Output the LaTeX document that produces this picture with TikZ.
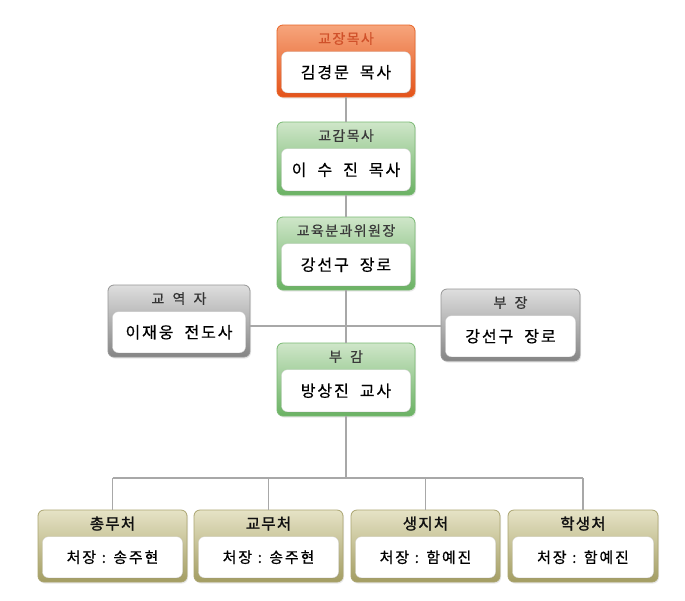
\documentclass[tikz,border=0pt]{standalone}
\usepackage{fontspec}
\setmainfont{Noto Sans CJK KR}
\newfontfamily\namefont[LetterSpace=12, WordSpace=2, FakeBold=0.6]{Noto Sans CJK KR}
\newfontfamily\smallnamefont[LetterSpace=12.1, WordSpace=1.1, FakeBold=0.61]{Noto Sans CJK KR}
\newfontfamily\headfont[LetterSpace=10, WordSpace=1.8, FakeBold=0.7]{Noto Sans CJK KR}
\newfontfamily\bigheadfont[LetterSpace=8, FakeBold=1.6]{Noto Sans CJK KR}
\usetikzlibrary{shadows}
\definecolor{orgtop}{HTML}{F6A57C}
\definecolor{orgbot}{HTML}{E4531A}
\definecolor{orgborder}{HTML}{E86426}
\definecolor{orghead}{HTML}{D0512A}
\definecolor{grntop}{HTML}{CFE6C9}
\definecolor{grnbot}{HTML}{6AB263}
\definecolor{grnborder}{HTML}{79B972}
\definecolor{grnhead}{HTML}{3A3A3A}
\definecolor{grytop}{HTML}{DEDEDE}
\definecolor{grybot}{HTML}{858585}
\definecolor{gryborder}{HTML}{969696}
\definecolor{gryhead}{HTML}{333333}
\definecolor{olvtop}{HTML}{E6E3C6}
\definecolor{olvbot}{HTML}{A39D62}
\definecolor{olvborder}{HTML}{ABA571}
\definecolor{olvhead}{HTML}{111111}
\definecolor{linegray}{HTML}{A8A8A8}
\tikzset{
  outerbox/.style={rounded corners=6pt, draw=#1border, top color=#1top, bottom color=#1bot,
    line width=0.8pt, inner sep=0pt,
    drop shadow={opacity=0.18, shadow xshift=1pt, shadow yshift=-1.5pt}},
  innerbox/.style={rounded corners=6pt, fill=white, draw=white!85!black, line width=0.3pt,
    inner sep=0pt, font=\namefont\fontsize{16}{18}\selectfont},
  smallbody/.style={font=\smallnamefont\fontsize{15}{17}\selectfont},
  headtext/.style={inner sep=0pt, font=\headfont\fontsize{14}{16}\selectfont},
  bighead/.style={inner sep=0pt, font=\bigheadfont\fontsize{15.5}{17}\selectfont},
  conn/.style={draw=linegray, line width=1.4pt},
}
% name, center, width, height, scheme, header style, header, body
\newcommand\orgbox[9][]{%
  \node[outerbox=#6, minimum width=#4pt, minimum height=#5pt] (#2) at (#3) {};
  \node[innerbox, #1, anchor=south, minimum width={#4pt-9pt}, minimum height={#5pt-31pt},
    drop shadow={opacity=0.15, shadow xshift=0.8pt, shadow yshift=-0.8pt}]
    (#2-in) at ([yshift=4.5pt]#2.south) {#9};
  \node[#7, text=#6head] (#2-hd) at ([yshift=-14pt]#2.north) {#8};
}
\begin{document}
\begin{tikzpicture}[x=1pt,y=-1pt]
  \fill[white] (0,0) rectangle (685,600);
  \useasboundingbox (0,0) rectangle (685,600);

  \coordinate (hy) at (346,326);
  \coordinate (bus) at (346,478);

  \orgbox{b1}{346,61}{138}{72}{org}{headtext}{교장목사}{김경문 목사}
  \orgbox{b2}{346,158.5}{138}{73}{grn}{headtext}{교감목사}{이 수 진 목사}
  \orgbox{b3}{346,253.5}{138}{73}{grn}{headtext}{교육분과위원장}{강선구 장로}
  \orgbox{lt}{179,321}{142}{72}{gry}{headtext}{교 역 자}{이재웅 전도사}
  \orgbox{rt}{510.5,325}{139}{72}{gry}{headtext}{부 장}{강선구 장로}
  \orgbox{b4}{346,379.5}{138}{73}{grn}{headtext}{부 감}{방상진 교사}

  \orgbox[smallbody]{d1}{112.5,546}{149}{72}{olv}{bighead}{총무처}{처장 : 송주현}
  \orgbox[smallbody]{d2}{268.5,546}{149}{72}{olv}{bighead}{교무처}{처장 : 송주현}
  \orgbox[smallbody]{d3}{425.5,546}{149}{72}{olv}{bighead}{생지처}{처장 : 함예진}
  \orgbox[smallbody]{d4}{583,546}{150}{72}{olv}{bighead}{학생처}{처장 : 함예진}

  \draw[conn] (b1) -- (b2);
  \draw[conn] (b2) -- (b3);
  \draw[conn] (b3) -- (b4);
  \draw[conn] (b4) -- (bus);
  \draw[conn] (lt.east |- hy) -- (rt.west |- hy);
  \draw[conn] (d1.north |- bus) -- (d4.north |- bus);
  \draw[conn] (d1.north |- bus) -- (d1);
  \draw[conn] (d2.north |- bus) -- (d2);
  \draw[conn] (d3.north |- bus) -- (d3);
  \draw[conn] (d4.north |- bus) -- (d4);
\end{tikzpicture}
\end{document}
